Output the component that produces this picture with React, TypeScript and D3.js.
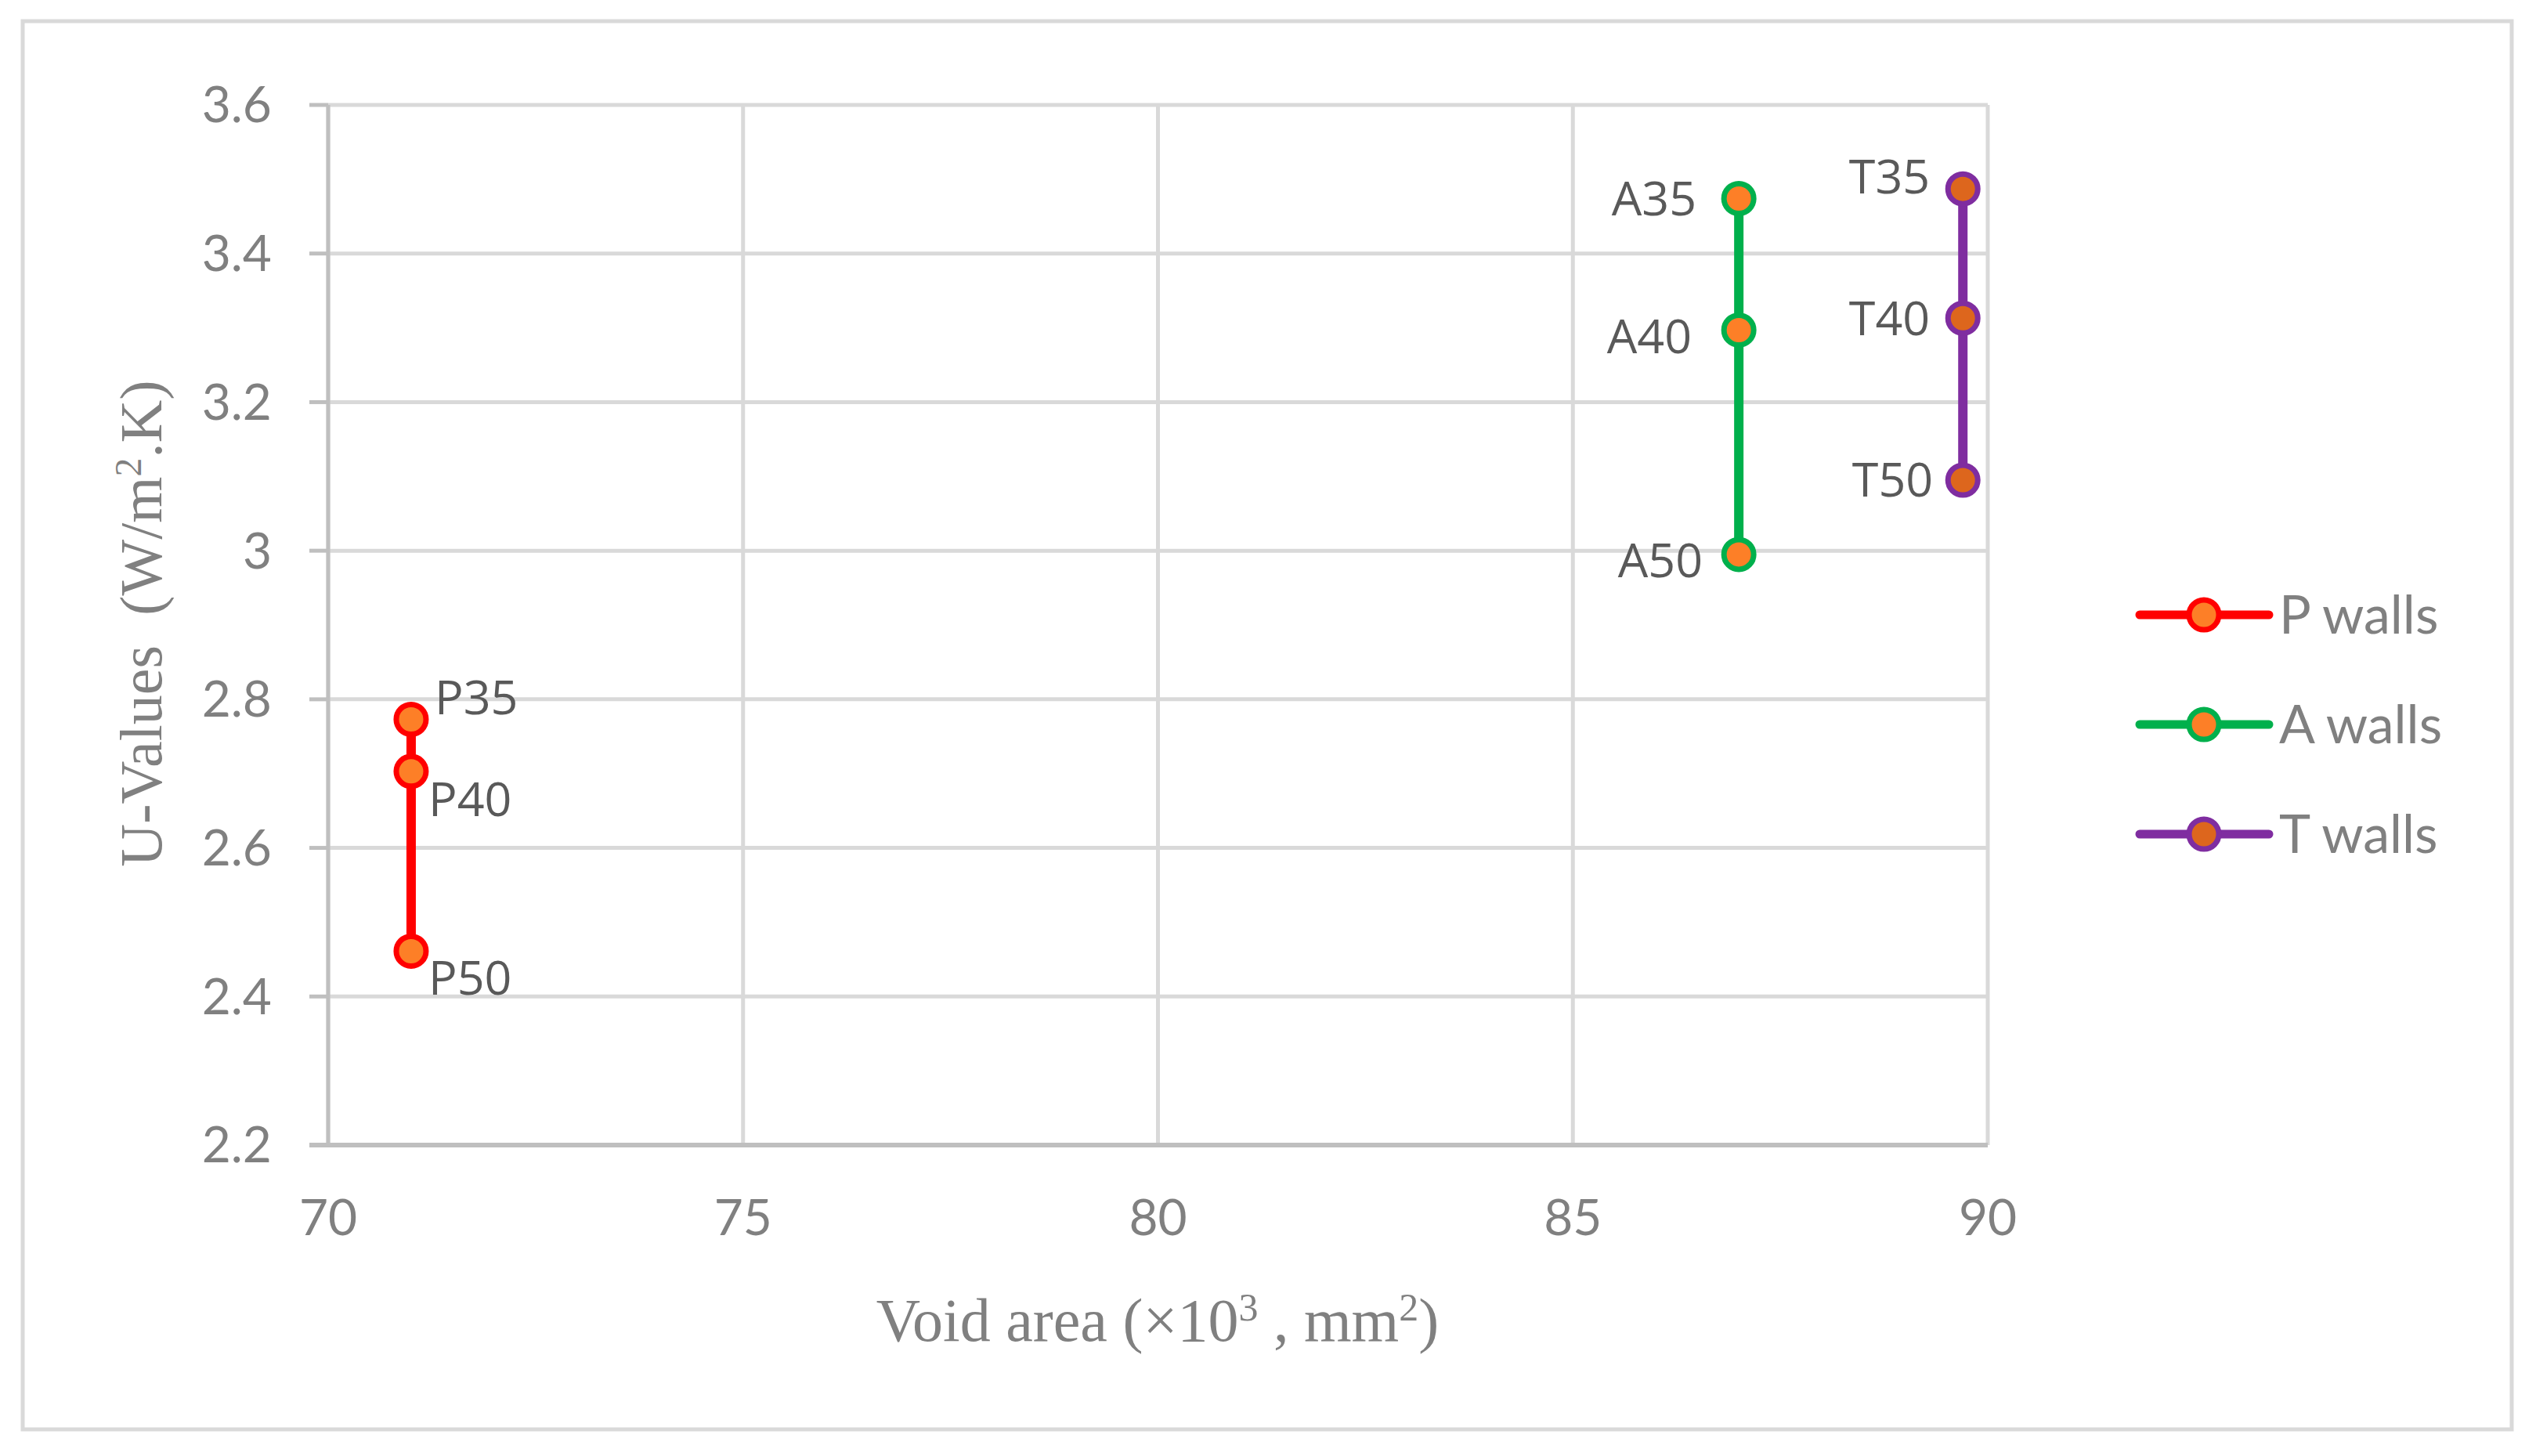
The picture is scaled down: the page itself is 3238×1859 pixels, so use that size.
import React from "react";
import * as d3 from "d3";

// series: void area (x10^3 mm2) and U-value per wall
const pNames = ["P35", "P40", "P50"];
const pX = [71, 71, 71];
const pY = [2.773, 2.703, 2.461];

const aNames = ["A35", "A40", "A50"];
const aX = [87, 87, 87];
const aY = [3.474, 3.297, 2.995];

const tNames = ["T35", "T40", "T50"];
const tX = [89.7, 89.7, 89.7];
const tY = [3.487, 3.313, 3.095];

const xTicks = [70, 75, 80, 85, 90];
const yTicks = [2.2, 2.4, 2.6, 2.8, 3, 3.2, 3.4, 3.6];
const legendNames = ["P walls", "A walls", "T walls"];

const W = 3238;
const H = 1859;
const margin = { left: 419, right: 700, top: 134, bottom: 397 };

// label placement relative to the marker
const labelPos: Record<string, { dx: number; dy: number; anchor: string }> = {
  P35: { dx: 30, dy: -28, anchor: "start" },
  P40: { dx: 22, dy: 36, anchor: "start" },
  P50: { dx: 22, dy: 34, anchor: "start" },
  A35: { dx: -54, dy: 0, anchor: "end" },
  A40: { dx: -60, dy: 8, anchor: "end" },
  A50: { dx: -46, dy: 8, anchor: "end" },
  T35: { dx: -42, dy: -16, anchor: "end" },
  T40: { dx: -42, dy: 0, anchor: "end" },
  T50: { dx: -38, dy: 0, anchor: "end" },
};

const App = () => {
  const x = d3
    .scaleLinear()
    .domain([70, 90])
    .range([margin.left, W - margin.right]);
  const y = d3
    .scaleLinear()
    .domain([2.2, 3.6])
    .range([H - margin.bottom, margin.top]);

  const series = [
    { name: legendNames[0], names: pNames, xs: pX, ys: pY, line: "#ff0000", fill: "#fd7f27" },
    { name: legendNames[1], names: aNames, xs: aX, ys: aY, line: "#00b04c", fill: "#fd7f27" },
    { name: legendNames[2], names: tNames, xs: tX, ys: tY, line: "#7f2da0", fill: "#dd661d" },
  ];

  const tickFont = "Lato, 'Liberation Sans', sans-serif";
  const labelFont = "'Open Sans', 'DejaVu Sans', sans-serif";
  const serif = "'Liberation Serif', 'DejaVu Serif', serif";

  return (
    <svg
      width={W}
      height={H}
      style={{ position: "absolute", left: 0, top: 0, background: "#fff" }}
    >
      <rect x={29} y={27} width={3178} height={1798} fill="#fff" stroke="#d9d9d9" strokeWidth={5} />

      {/* gridlines */}
      {yTicks.map((t) => (
        <line key={"gy" + t} x1={x(70)} x2={x(90)} y1={y(t)} y2={y(t)} stroke="#d9d9d9" strokeWidth={5} />
      ))}
      {xTicks.map((t) => (
        <line key={"gx" + t} x1={x(t)} x2={x(t)} y1={y(2.2)} y2={y(3.6)} stroke="#d9d9d9" strokeWidth={5} />
      ))}

      {/* axes */}
      <line x1={x(70)} x2={x(70)} y1={y(3.6)} y2={y(2.2)} stroke="#bfbfbf" strokeWidth={5} />
      <line x1={x(70) - 24} x2={x(90)} y1={y(2.2)} y2={y(2.2)} stroke="#bfbfbf" strokeWidth={6} />
      {yTicks.map((t) => (
        <line key={"ty" + t} x1={x(70) - 24} x2={x(70)} y1={y(t)} y2={y(t)} stroke="#bfbfbf" strokeWidth={5} />
      ))}

      {yTicks.map((t) => (
        <text
          key={"ly" + t}
          x={x(70) - 72}
          y={y(t)}
          dy="0.35em"
          textAnchor="end"
          fontFamily={tickFont}
          fontSize={64}
          fill="#808080"
        >
          {d3.format("~g")(t)}
        </text>
      ))}
      {xTicks.map((t) => (
        <text
          key={"lx" + t}
          x={x(t)}
          y={y(2.2) + 93}
          dy="0.35em"
          textAnchor="middle"
          fontFamily={tickFont}
          fontSize={64}
          fill="#808080"
        >
          {t}
        </text>
      ))}

      {/* axis titles */}
      <text
        x={1478}
        y={1712}
        textAnchor="middle"
        fontFamily={serif}
        fontSize={78}
        fill="#808080"
      >
        Void area (×10
        <tspan dy={-26} fontSize={50}>3</tspan>
        <tspan dy={26}> , mm</tspan>
        <tspan dy={-26} fontSize={50}>2</tspan>
        <tspan dy={26}>)</tspan>
      </text>
      <text
        transform={`translate(206,${(y(2.2) + y(3.6)) / 2 - 2}) rotate(-90)`}
        textAnchor="middle"
        fontFamily={serif}
        fontSize={76}
        fill="#808080"
      >
        {"U-Values\u00a0 (W/m"}
        <tspan dy={-26} fontSize={48}>2</tspan>
        <tspan dy={26}>.K)</tspan>
      </text>

      {/* series */}
      {series.map((s) => {
        const pts = s.ys.map((v, i) => [x(s.xs[i]), y(v)] as [number, number]);
        const path = d3.line()(pts);
        return (
          <g key={s.name}>
            <path d={path || ""} fill="none" stroke={s.line} strokeWidth={12} />
            {pts.map((p, i) => (
              <circle key={i} cx={p[0]} cy={p[1]} r={19} fill={s.fill} stroke={s.line} strokeWidth={7} />
            ))}
            {pts.map((p, i) => {
              const lp = labelPos[s.names[i]];
              return (
                <text
                  key={"t" + i}
                  x={p[0] + lp.dx}
                  y={p[1] + lp.dy}
                  dy="0.35em"
                  textAnchor={lp.anchor}
                  fontFamily={labelFont}
                  fontSize={61}
                  fill="#595959"
                >
                  {s.names[i]}
                </text>
              );
            })}
          </g>
        );
      })}

      {/* legend */}
      {series.map((s, i) => {
        const ly = 785 + i * 140;
        return (
          <g key={"lg" + s.name}>
            <line x1={2732} x2={2897} y1={ly} y2={ly} stroke={s.line} strokeWidth={11} strokeLinecap="round" />
            <circle cx={2814} cy={ly} r={19} fill={s.fill} stroke={s.line} strokeWidth={7} />
            <text
              x={2910}
              y={ly}
              dy="0.35em"
              fontFamily={tickFont}
              fontSize={68}
              fill="#808080"
            >
              {s.name}
            </text>
          </g>
        );
      })}
    </svg>
  );
};

export default App;
